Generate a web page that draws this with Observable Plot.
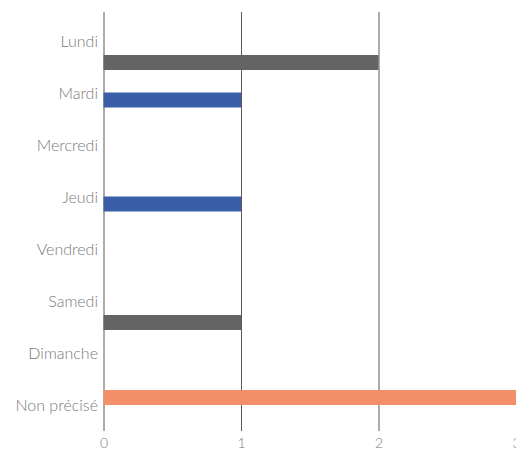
<!DOCTYPE html>
<html>
<head>
<meta charset="utf-8">
<script src="https://cdn.jsdelivr.net/npm/d3@7"></script>
<script src="https://cdn.jsdelivr.net/npm/@observablehq/plot@0.6"></script>
<style>
  html, body { margin: 0; padding: 0; background: #fff; }
  #chart svg { display: block; }
</style>
</head>
<body>
<div id="chart"></div>
<script>
const days = ["Lundi", "Mardi", "Mercredi", "Jeudi", "Vendredi", "Samedi", "Dimanche", "Non précisé"];
const seriesNames = ["Série 1", "Série 2", "Série 3"];
const seriesColors = ["#f3906a", "#3b5ea8", "#646464"];
const orangeValues = [0, 0, 0, 0, 0, 0, 0, 3];
const blueValues = [0, 1, 0, 1, 0, 0, 0, 0];
const greyValues = [2, 0, 0, 0, 0, 1, 0, 0];
const xTicks = [0, 1, 2, 3];

const seriesValues = [orangeValues, blueValues, greyValues];
const rows = seriesNames.map((s, k) => days.map((d, i) => ({day: d, series: s, value: seriesValues[k][i]})));
// inset per series within each day band (top, bottom)
const insets = [[4, 33], [18.5, 18.5], [33, 4]];

const chart = Plot.plot({
  width: 516,
  height: 452,
  marginLeft: 103.5,
  marginRight: 0,
  marginTop: 12,
  marginBottom: 21,
  style: {fontFamily: "Lato, 'Open Sans', sans-serif", fontWeight: 300, fontSize: "15px", color: "#7a7a7a", overflow: "visible"},
  x: {domain: [0, 3], ticks: xTicks, tickFormat: "d"},
  y: {type: "band", domain: days, range: [22, 438], padding: 0},
  color: {domain: seriesNames, range: seriesColors},
  marks: [
    Plot.ruleX(xTicks, {stroke: "#595959", strokeWidth: 1}),
    ...rows.map((r, k) => Plot.barX(r, {
      x: "value", y: "day", fill: "series",
      insetTop: insets[k][0], insetBottom: insets[k][1]
    })),
    Plot.axisY({tickSize: 0, tickPadding: 6, dy: -7, label: null, fill: "#7a7a7a", fontSize: 16}),
    Plot.axisX({ticks: xTicks, tickFormat: "d", tickSize: 0, tickPadding: 7, label: null, fill: "#7a7a7a", fontSize: 14})
  ]
});
document.getElementById("chart").appendChild(chart);
</script>
</body>
</html>
